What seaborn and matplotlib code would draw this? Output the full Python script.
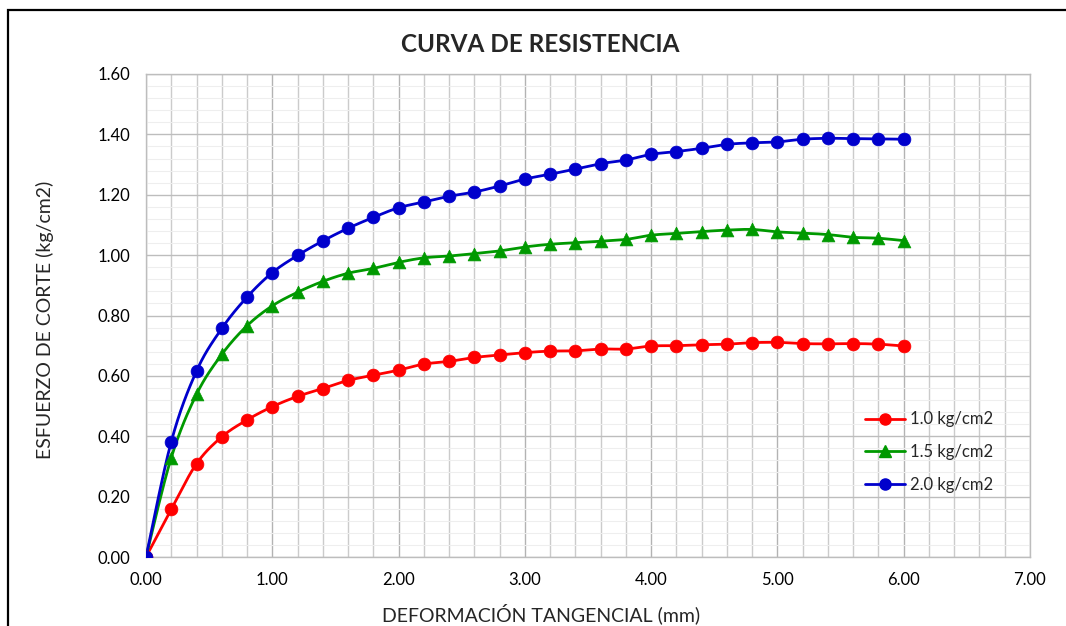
import numpy as np
import matplotlib
matplotlib.use("Agg")
import matplotlib.pyplot as plt
from matplotlib.lines import Line2D
from matplotlib.patches import Rectangle
from matplotlib.ticker import MultipleLocator, FormatStrFormatter
import seaborn as sns

# Deformación tangencial (mm)
deformacion = [0.0, 0.2, 0.4, 0.6, 0.8, 1.0, 1.2, 1.4, 1.6, 1.8, 2.0,
               2.2, 2.4, 2.6, 2.8, 3.0, 3.2, 3.4, 3.6, 3.8, 4.0,
               4.2, 4.4, 4.6, 4.8, 5.0, 5.2, 5.4, 5.6, 5.8, 6.0]

# Esfuerzo de corte (kg/cm2) para cada carga normal
esfuerzo_10 = [0.000, 0.158, 0.309, 0.398, 0.454, 0.498, 0.532, 0.558, 0.585, 0.602, 0.619,
               0.639, 0.648, 0.661, 0.669, 0.677, 0.682, 0.683, 0.689, 0.689, 0.699,
               0.700, 0.703, 0.705, 0.710, 0.711, 0.707, 0.706, 0.707, 0.705, 0.699]
esfuerzo_15 = [0.000, 0.329, 0.539, 0.671, 0.766, 0.832, 0.877, 0.913, 0.940, 0.956, 0.976,
               0.991, 0.997, 1.005, 1.014, 1.027, 1.036, 1.041, 1.046, 1.052, 1.066,
               1.072, 1.078, 1.083, 1.085, 1.077, 1.073, 1.068, 1.059, 1.056, 1.048]
esfuerzo_20 = [0.000, 0.382, 0.616, 0.757, 0.861, 0.942, 0.999, 1.047, 1.089, 1.125, 1.157,
               1.176, 1.195, 1.209, 1.229, 1.252, 1.268, 1.285, 1.303, 1.315, 1.334,
               1.343, 1.354, 1.367, 1.372, 1.375, 1.384, 1.387, 1.386, 1.385, 1.384]

etiquetas = ["1.0 kg/cm2", "1.5 kg/cm2", "2.0 kg/cm2"]
colores = ["#ff0000", "#009900", "#0000cc"]
marcadores = ["o", "^", "o"]


def curva_suave(x, y, pasos=16):
    """Catmull-Rom spline through the measured points (smoothed line)."""
    p = np.column_stack([x, y]).astype(float)
    p = np.vstack([p[0], p, p[-1]])
    t = np.linspace(0, 1, pasos, endpoint=False)[:, None]
    tramos = []
    for i in range(1, len(p) - 2):
        p0, p1, p2, p3 = p[i - 1], p[i], p[i + 1], p[i + 2]
        seg = 0.5 * (2 * p1 + (-p0 + p2) * t
                     + (2 * p0 - 5 * p1 + 4 * p2 - p3) * t ** 2
                     + (-p0 + 3 * p1 - 3 * p2 + p3) * t ** 3)
        tramos.append(seg)
    tramos.append(p[-2][None, :])
    s = np.vstack(tramos)
    return s[:, 0], s[:, 1]


sns.set_theme(style="white")
plt.rcParams["font.family"] = ["Lato", "DejaVu Sans"]

fig = plt.figure(figsize=(10.66, 6.26), dpi=100)
ax = fig.add_axes([146 / 1066, 1 - 557 / 626, (1030 - 146) / 1066, (557 - 74) / 626])

# Grid: fine horizontal lines, then secondary / main lines
ax.set_xlim(0, 7)
ax.set_ylim(0, 1.6)
ax.xaxis.set_major_locator(MultipleLocator(1.0))
ax.xaxis.set_minor_locator(MultipleLocator(0.2))
ax.yaxis.set_major_locator(MultipleLocator(0.2))
ax.yaxis.set_minor_locator(MultipleLocator(0.04))
ax.xaxis.set_major_formatter(FormatStrFormatter("%.2f"))
ax.yaxis.set_major_formatter(FormatStrFormatter("%.2f"))
ax.grid(True, axis="y", which="minor", color="#eeeeee", linewidth=0.8)
ax.grid(True, axis="x", which="minor", color="#cbcbcb", linewidth=1.0)
ax.grid(True, axis="y", which="major", color="#bdbdbd", linewidth=1.0)
ax.grid(True, axis="x", which="major", color="#b3b3b3", linewidth=1.0)
ax.set_axisbelow(True)
for sp in ax.spines.values():
    sp.set_color("#bdbdbd")
    sp.set_linewidth(1.0)
ax.tick_params(axis="both", which="both", length=0, labelsize=12, colors="black")
ax.tick_params(axis="x", pad=11)
ax.tick_params(axis="y", pad=11)

series = [esfuerzo_10, esfuerzo_15, esfuerzo_20]
handles = []
for valores, etiqueta, color, marca in zip(series, etiquetas, colores, marcadores):
    xs, ys = curva_suave(deformacion, valores)
    ax.plot(xs, ys, color=color, linewidth=2.0, solid_capstyle="round", zorder=3)
    sns.scatterplot(x=deformacion, y=valores, ax=ax, marker=marca, s=85,
                    color=color, edgecolor=color, linewidth=0.5, zorder=4, legend=False)
    handles.append(Line2D([0], [0], color=color, linewidth=2.0, marker=marca,
                          markersize=8.0, label=etiqueta))

ax.legend(handles=handles, loc="center left", frameon=False, fontsize=12,
          bbox_to_anchor=(865 / 1066, 1 - 452 / 626), bbox_transform=fig.transFigure,
          handlelength=2.4, handletextpad=0.3, labelspacing=1.0, borderpad=0,
          borderaxespad=0)

fig.text(540 / 1066, 1 - 45 / 626, "CURVA DE RESISTENCIA", ha="center", va="center",
         fontsize=17.5, fontweight="bold")
fig.text(541 / 1066, 1 - 614 / 626, "DEFORMACIÓN TANGENCIAL (mm)", ha="center",
         va="center", fontsize=14)
fig.text(45 / 1066, 1 - 320 / 626, "ESFUERZO DE CORTE (kg/cm2)", ha="center",
         va="center", rotation=90, fontsize=14)

# Outer chart frame
fig.patches.append(Rectangle((8 / 1066, -0.05), 1.2, 1 - 10 / 626 + 0.05,
                             transform=fig.transFigure, fill=False,
                             edgecolor="black", linewidth=1.6, zorder=10))

fig.savefig("out.png", dpi=100)
